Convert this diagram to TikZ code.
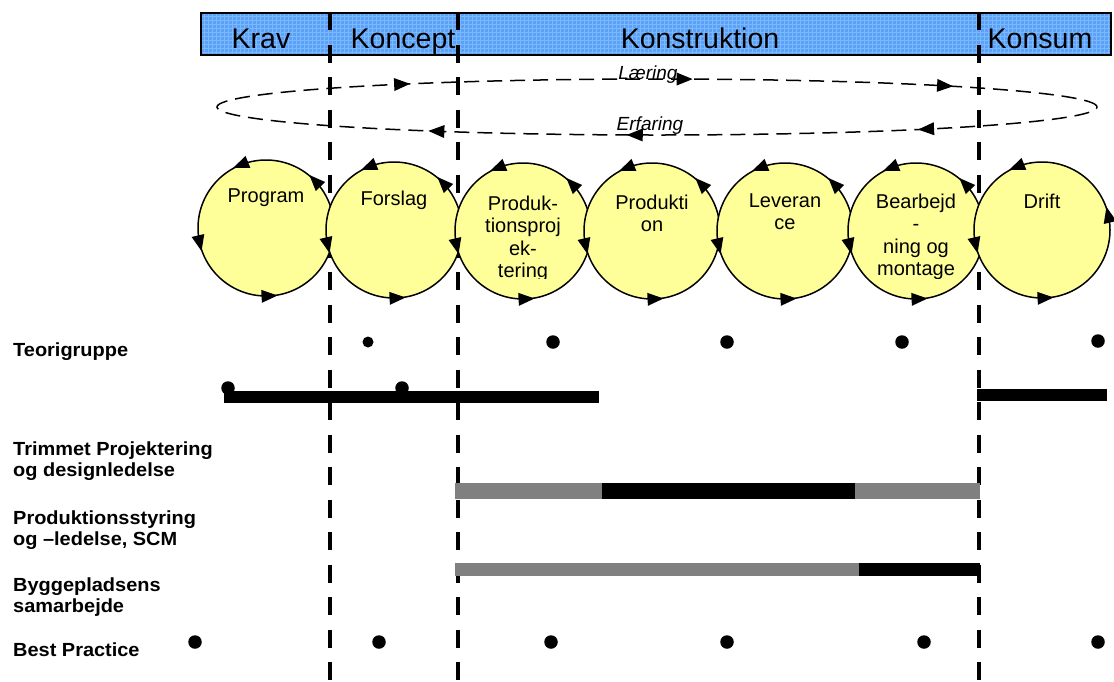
\documentclass[tikz,border=0pt]{standalone}
\usepackage{fontspec}
\setmainfont{Liberation Sans}
\newfontfamily\rowfont{Liberation Sans}[FakeStretch=1.05]
\usetikzlibrary{calc,shapes.geometric}
\definecolor{bandblue}{HTML}{5AA2F8}
\definecolor{bandgrid}{HTML}{7DB8FF}
\definecolor{circyellow}{HTML}{FFFF99}
\definecolor{bargray}{HTML}{808080}
\tikzset{
  phaseline/.style={line width=4.5pt, dash pattern=on 18pt off 14.5pt},
  bubble/.style={circle, draw=black, line width=1.5pt, fill=circyellow, minimum size=136pt, inner sep=0pt},
  bubbletext/.style={anchor=north, inner sep=0pt, align=center, font=\fontsize{20}{22.5}\selectfont},
  headtext/.style={anchor=base, inner sep=0pt, font=\fontsize{28.5}{30}\selectfont},
  looptext/.style={anchor=base, inner sep=0pt, font=\itshape\fontsize{19}{21}\selectfont},
  rowlabel/.style={anchor=north west, inner sep=0pt, align=left, font=\rowfont\bfseries\fontsize{19}{20.5}\selectfont},
  dot/.style={circle, fill=black, inner sep=0pt, minimum size=13.5pt},
  smalldot/.style={circle, fill=black, inner sep=0pt, minimum size=11pt},
  loopline/.style={ellipse, draw=black, line width=1.5pt, dash pattern=on 15pt off 8pt, inner sep=0pt},
}
\begin{document}
\begin{tikzpicture}[x=1pt,y=1pt]
\useasboundingbox[fill=white] (0,0) rectangle (1114,-681);

% header band
\node[draw=black, fill=bandblue, line width=1.3pt, minimum width=909pt, minimum height=41pt, inner sep=0pt, anchor=north west] (band) at (201,-13) {};
\begin{scope}
  \clip (201,-13) rectangle (1110,-54);
  \draw[bandgrid, line width=0.35pt, step=4] (201,-54) grid (1110,-13);
\end{scope}
\draw[black, line width=1.3pt] (band.north west) rectangle (band.south east);
\node[headtext] (hkrav) at (261,-48) {Krav};
\node[headtext] (hkon) at (403,-48) {Koncept};
\node[headtext] (hkonst) at (700,-48) {Konstruktion};
\node[headtext] (hkonsum) at (1040,-48) {Konsum};

% learning loop
\node[loopline, minimum width=880pt, minimum height=56pt] (loop) at (657,-107) {};
\node[looptext] (laer) at (648,-79) {Læring};
\node[looptext] (erf) at (650,-130) {Erfaring};
\foreach \t in {125.4,86.4,49.1,239.9,267.1,307.7}{
  \path (loop.center) ++(\t:440pt and 28pt) coordinate (ea);
  \pgfmathsetmacro\dir{atan2(-28*cos(\t),440*sin(\t))}
  \fill[shift={(ea)}, rotate=\dir] (8,0) -- (-8,6.5) -- (-8,-6.5) -- cycle;
}

% phase lines
\coordinate (l1t) at (330,-12);  \coordinate (l1b) at (330,-681);
\coordinate (l2t) at (458,-12);  \coordinate (l2b) at (458,-681);
\coordinate (l3t) at (979,-12);  \coordinate (l3b) at (979,-681);
\draw[phaseline] (l1t) -- (l1b);
\draw[phaseline] (l2t) -- (l2b);
\draw[phaseline] (l3t) -- (l3b);

% cycles
\node[bubble] (c1) at (266,-228) {};
\node[bubble] (c2) at (394,-230) {};
\node[bubble] (c3) at (523,-231) {};
\node[bubble] (c4) at (652,-231) {};
\node[bubble] (c5) at (785,-231) {};
\node[bubble] (c6) at (916,-231) {};
\node[bubble] (c7) at (1042,-230) {};
\foreach \i in {1,...,6}{
  \foreach \a in {112,44,193,273}{
    \path (c\i.center) ++(\a:68pt) coordinate (ca);
    \fill[shift={(ca)}, rotate=\a+90] (8,0) -- (-8,6.5) -- (-8,-6.5) -- cycle;
  }
}
\foreach \a in {112,13,193,273}{
  \path (c7.center) ++(\a:68pt) coordinate (ca);
  \fill[shift={(ca)}, rotate=\a+90] (8,0) -- (-8,6.5) -- (-8,-6.5) -- cycle;
}
\begin{scope}
  \clip (0,-150) rectangle (1114,-278);
  \node[bubbletext] (t1) at (266,-188.5) {Program};
  \node[bubbletext] (t2) at (394,-190.5) {Forslag};
  \node[bubbletext] (t3) at (523,-195.5) {Produk-\\tionsproj\\ek-\\tering};
  \node[bubbletext] (t4) at (652,-194.5) {Produkti\\on};
  \node[bubbletext] (t5) at (785,-193.5) {Leveran\\ce};
  \node[bubbletext] (t6) at (916,-193.5) {Bearbejd\\-\\ning og\\montage};
  \node[bubbletext] (t7) at (1042,-193.5) {Drift};
\end{scope}

% rows
\node[rowlabel] (lab1) at (13,-342.5) {Teorigruppe};
\node[rowlabel] (lab2) at (13,-442) {Trimmet Projektering\\og designledelse};
\node[rowlabel] (lab3) at (13,-511) {Produktionsstyring\\og –ledelse, SCM};
\node[rowlabel] (lab4) at (13,-578) {Byggepladsens\\samarbejde};
\node[rowlabel] (lab5) at (13,-643) {Best Practice};

% Teorigruppe
\node[smalldot] (td1) at (368,-342) {};
\node[dot] (td2) at (553,-342) {};
\node[dot] (td3) at (727,-342) {};
\node[dot] (td4) at (902,-342) {};
\node[dot] (td5) at (1098,-341) {};
\fill (224,-391) rectangle (599,-403);
\fill (977,-388.5) rectangle (1107,-401);
\node[dot] (tb1) at (228,-388) {};
\node[dot] (tb2) at (402,-388) {};

% Trimmet
\fill[bargray] (455,-483) rectangle (602,-499);
\fill[black] (602,-483) rectangle (855,-499);
\fill[bargray] (855,-483) rectangle (980,-499);

% Byggepladsens
\fill[bargray] (455,-563) rectangle (859,-576);
\fill[black] (859,-563) rectangle (980,-576);

% Best Practice
\node[dot] (bp1) at (195,-642) {};
\node[dot] (bp2) at (379,-642) {};
\node[dot] (bp3) at (551,-642) {};
\node[dot] (bp4) at (727,-642) {};
\node[dot] (bp5) at (924,-642) {};
\node[dot] (bp6) at (1098,-642) {};
\end{tikzpicture}
\end{document}
